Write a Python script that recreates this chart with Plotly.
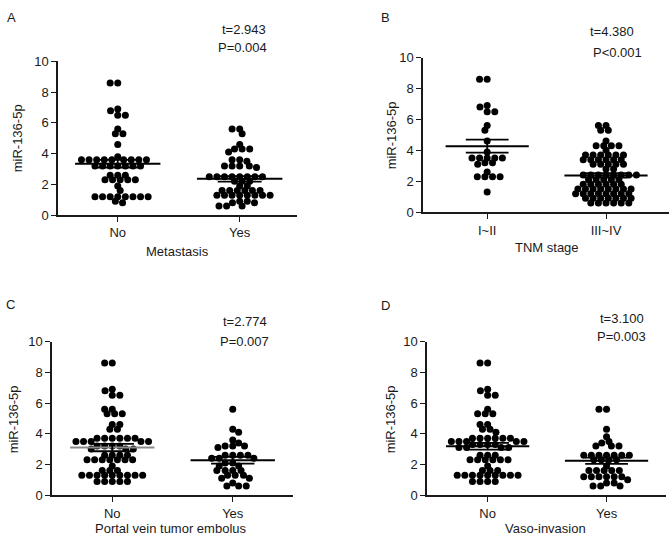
import numpy as np
import plotly.graph_objects as go

W, H = 672, 546
FONT = "Liberation Sans, Arial, sans-serif"

# ---------------- data ----------------
a_no = [8.6, 8.6, 6.9, 6.8, 6.5, 6.5, 5.6, 5.3, 5.3, 4.6, 3.8,
        3.6, 3.6, 3.6, 3.6, 3.6, 3.6, 3.6, 3.6, 3.6,
        3.2, 3.2, 3.2, 3.2, 3.2, 3.2, 3.2,
        2.6, 2.6, 2.6, 2.3, 2.3, 2.3, 2.3, 2.3, 1.9, 1.6,
        1.2, 1.2, 1.2, 1.2, 1.2, 1.2, 1.2, 1.2, 0.9, 0.8]
a_yes = [5.6, 5.6, 5.3, 4.6, 4.3, 4.3, 4.3, 4.1,
         3.6, 3.6, 3.5, 3.2, 3.2, 3.2, 3.2, 3.1,
         2.5, 2.5, 2.5, 2.5, 2.5, 2.5, 2.5, 2.5, 2.2, 2.2, 2.2,
         1.9, 1.9, 1.6, 1.6, 1.6, 1.6, 1.6, 1.6,
         1.3, 1.3, 1.3, 1.3, 1.3, 1.3, 1.3, 1.3,
         0.9, 0.9, 0.8, 0.8, 0.6, 0.6, 0.6]
b_early = [8.6, 8.6, 6.9, 6.8, 6.5, 6.5, 5.6, 5.3, 4.6, 3.9,
           3.5, 3.5, 3.5, 3.5, 3.5, 3.2, 3.2, 3.1, 2.6,
           2.3, 2.3, 2.3, 2.3, 1.3]
b_late = [5.6, 5.6, 5.3, 5.3, 4.6, 4.3, 4.3, 4.3, 4.3, 4.0,
          3.7, 3.7, 3.7, 3.7, 3.7, 3.7, 3.4, 3.4, 3.4, 3.4, 3.4, 3.4,
          3.1, 3.1, 3.1, 3.1, 3.1, 2.8, 2.8,
          2.4, 2.4, 2.4, 2.4, 2.4, 2.4, 2.4, 2.4,
          2.1, 2.1, 2.1, 2.1, 2.1,
          1.8, 1.8, 1.8, 1.8, 1.8, 1.8,
          1.5, 1.5, 1.5, 1.5, 1.5, 1.5, 1.5, 1.5,
          1.2, 1.2, 1.2, 1.2, 1.2, 1.2, 1.2, 1.2,
          0.9, 0.9, 0.9, 0.9, 0.9, 0.9, 0.9,
          0.6, 0.6, 0.6, 0.6, 0.6, 0.6]
c_no = [8.6, 8.6, 6.9, 6.8, 6.5, 6.5, 5.6, 5.6, 5.3, 5.3, 5.3, 4.6, 4.6, 4.3, 4.3,
        3.7, 3.7, 3.7, 3.7, 3.7, 3.7, 3.5, 3.5, 3.5, 3.5, 3.5,
        3.2, 3.2, 3.2, 3.2, 3.0, 3.0, 3.0,
        2.6, 2.6, 2.6, 2.6, 2.3, 2.3, 2.3, 2.3, 2.3, 2.3, 2.3,
        1.9, 1.6, 1.6, 1.6,
        1.3, 1.3, 1.3, 1.3, 1.3, 1.3, 1.3, 1.3, 1.3,
        0.9, 0.9, 0.9, 0.9, 0.9]
c_yes = [5.6, 4.3, 4.1, 3.6, 3.4, 3.2, 3.2, 3.2, 3.1,
         2.6, 2.6, 2.6, 2.6, 2.4, 2.4, 2.4, 2.1, 2.1, 1.9, 1.9,
         1.6, 1.6, 1.6, 1.6, 1.3, 1.3, 1.3, 1.1, 1.1,
         0.8, 0.6, 0.6, 0.6]
d_no = [8.6, 8.6, 6.9, 6.8, 6.5, 6.5, 5.6, 5.3, 5.3, 5.3, 4.6, 4.6, 4.3, 4.3, 4.1,
        3.7, 3.7, 3.7, 3.7, 3.7, 3.7, 3.5, 3.5, 3.5, 3.5, 3.5,
        3.3, 3.3, 3.3, 3.3, 3.1, 3.1, 3.1, 3.1,
        2.6, 2.6, 2.6, 2.3, 2.3, 2.3, 2.3, 2.3, 2.3,
        1.9, 1.6, 1.6, 1.6,
        1.3, 1.3, 1.3, 1.3, 1.3, 1.3, 1.3, 1.3, 1.3,
        0.9, 0.9, 0.9, 0.9]
d_yes = [5.6, 5.6, 4.3, 3.8, 3.5, 3.4, 3.2, 3.2, 3.2,
         2.6, 2.6, 2.6, 2.6, 2.6, 2.6, 2.6, 2.3, 2.3, 2.3, 2.3, 1.9,
         1.6, 1.6, 1.6, 1.6, 1.6, 1.2, 1.2, 1.2, 1.2, 1.2, 1.2, 1.0,
         0.8, 0.8, 0.6, 0.6, 0.6]

# mean and SEM
means = {"A": [3.35, 2.36], "B": [4.27, 2.38], "C": [3.10, 2.27], "D": [3.19, 2.24]}
sems = {"A": [0.25, 0.18], "B": [0.42, 0.15], "C": [0.24, 0.22], "D": [0.22, 0.2]}

cat_labels = {"A": ["No", "Yes"], "B": ["I~II", "III~IV"],
              "C": ["No", "Yes"], "D": ["No", "Yes"]}
x_titles = {"A": "Metastasis", "B": "TNM stage",
            "C": "Portal vein tumor embolus", "D": "Vaso-invasion"}
stats_t = {"A": "t=2.943", "B": "t=4.380", "C": "t=2.774", "D": "t=3.100"}
stats_p = {"A": "P=0.004", "B": "P<0.001", "C": "P=0.007", "D": "P=0.003"}
y_title = "miR-136-5p"
y_ticks = [0, 2, 4, 6, 8, 10]

groups = {"A": [a_no, a_yes], "B": [b_early, b_late],
          "C": [c_no, c_yes], "D": [d_no, d_yes]}

# ---------------- layout geometry (pixels) ----------------
geom = {
    "A": dict(l=58, r=297, t=56, b=214, xr=[-0.49, 1.47]),
    "B": dict(l=423, r=669, t=52, b=211, xr=[-0.54, 1.53]),
    "C": dict(l=52, r=293, t=344, b=502, xr=[-0.50, 1.50]),
    "D": dict(l=427, r=666, t=344, b=502, xr=[-0.51, 1.50]),
}
text_pos = {
    "A": dict(letter=(11, 11), t=(244, 23), p=(242, 42), xt=(177, 251), yt=(17, 135)),
    "B": dict(letter=(385, 11), t=(612, 25), p=(617, 47), xt=(547, 247), yt=(391, 132)),
    "C": dict(letter=(10, 306), t=(245, 323), p=(244, 344), xt=(171, 536), yt=(13, 424)),
    "D": dict(letter=(385, 307), t=(622, 320), p=(621, 339), xt=(545, 536), yt=(390, 424)),
}


def swarm(vals, ppu_y, ppu_x, dx_min=7.6, dy_min=5.0):
    """Greedy beeswarm with an elliptical exclusion zone (pixels)."""
    vals = np.asarray(vals, float)
    order = np.argsort(-vals, kind="stable")
    placed = []
    offs = np.zeros(len(vals))

    def clear(c, y):
        for px, py in placed:
            dy = (y - py) / dy_min
            dx = (c - px) / dx_min
            if dx * dx + dy * dy < 1 - 1e-6:
                return False
        return True

    for k, idx in enumerate(order):
        y = vals[idx] * ppu_y
        cands = [0.0]
        for px, py in placed:
            dy = abs(py - y) / dy_min
            if dy < 1:
                dx = dx_min * np.sqrt(1 - dy * dy)
                cands += [px + dx, px - dx]
        ok = [c for c in cands if clear(c, y)]
        sign = 1 if k % 2 == 0 else -1
        best = min(ok, key=lambda c: (round(abs(c), 4), -sign * c))
        placed.append((best, y))
        offs[idx] = best / ppu_x
    return offs


def P(x, y):
    return x / W, 1 - y / H


fig = go.Figure()
layout = {}
annotations = []
txt = dict(family=FONT, size=13, color="#1a1a1a")

for n, key in enumerate(["A", "B", "C", "D"]):
    g = geom[key]
    ax = "" if n == 0 else str(n + 1)
    xa, ya = "x" + ax, "y" + ax
    dom_x = [g["l"] / W, g["r"] / W]
    dom_y = [1 - g["b"] / H, 1 - g["t"] / H]
    ppu_x = (g["r"] - g["l"]) / (g["xr"][1] - g["xr"][0])
    ppu_y = (g["b"] - g["t"]) / 10.0

    for i, vals in enumerate(groups[key]):
        offs = swarm(vals, ppu_y, ppu_x)
        fig.add_trace(go.Scatter(
            x=i + offs, y=vals, mode="markers", xaxis=xa, yaxis=ya,
            marker=dict(size=7, color="black", line=dict(width=0)),
            hoverinfo="y", showlegend=False))
        m, s = means[key][i], sems[key][i]
        mcol = "#8a8a8a" if (key == "C" and i == 0) else "black"
        fig.add_trace(go.Scatter(
            x=[i - 0.35, i + 0.35], y=[m, m], mode="lines", xaxis=xa, yaxis=ya,
            line=dict(color=mcol, width=2), hoverinfo="skip", showlegend=False))
        fig.add_trace(go.Scatter(
            x=[i - 0.18, i + 0.18, None, i, i, None, i - 0.18, i + 0.18],
            y=[m + s, m + s, None, m + s, m - s, None, m - s, m - s],
            mode="lines", xaxis=xa, yaxis=ya,
            line=dict(color="black", width=1.8), hoverinfo="skip", showlegend=False))

    layout["xaxis" + ax] = dict(
        domain=dom_x, range=g["xr"], anchor=ya, showgrid=False, zeroline=False,
        showline=True, linecolor="#1a1a1a", linewidth=1.5,
        tickvals=[0, 1], ticktext=cat_labels[key], ticks="outside", ticklen=5,
        tickwidth=1.2, tickcolor="#1a1a1a", tickfont=txt)
    layout["yaxis" + ax] = dict(
        domain=dom_y, range=[0, 10], anchor=xa, showgrid=False, zeroline=False,
        showline=True, linecolor="#1a1a1a", linewidth=1.5,
        tickvals=y_ticks, ticks="outside", ticklen=5, tickwidth=1.2,
        tickcolor="#1a1a1a", tickfont=txt)

    tp = text_pos[key]
    for label, pos, angle in [(key, tp["letter"], 0), (stats_t[key], tp["t"], 0),
                              (stats_p[key], tp["p"], 0), (x_titles[key], tp["xt"], 0),
                              (y_title, tp["yt"], -90)]:
        x, y = P(*pos)
        annotations.append(dict(text=label, x=x, y=y, xref="paper", yref="paper",
                                xanchor="center", yanchor="middle", showarrow=False,
                                textangle=angle, font=txt))

fig.update_layout(width=W, height=H, margin=dict(l=0, r=0, t=0, b=0),
                  paper_bgcolor="white", plot_bgcolor="white",
                  showlegend=False, annotations=annotations, **layout)

# remove the browser's default page margin so the figure fills the window exactly
fig.write_html("out.html",
               config={"displayModeBar": False},
               post_script="document.body.style.margin='0';"
                           "document.documentElement.style.overflow='hidden';")
